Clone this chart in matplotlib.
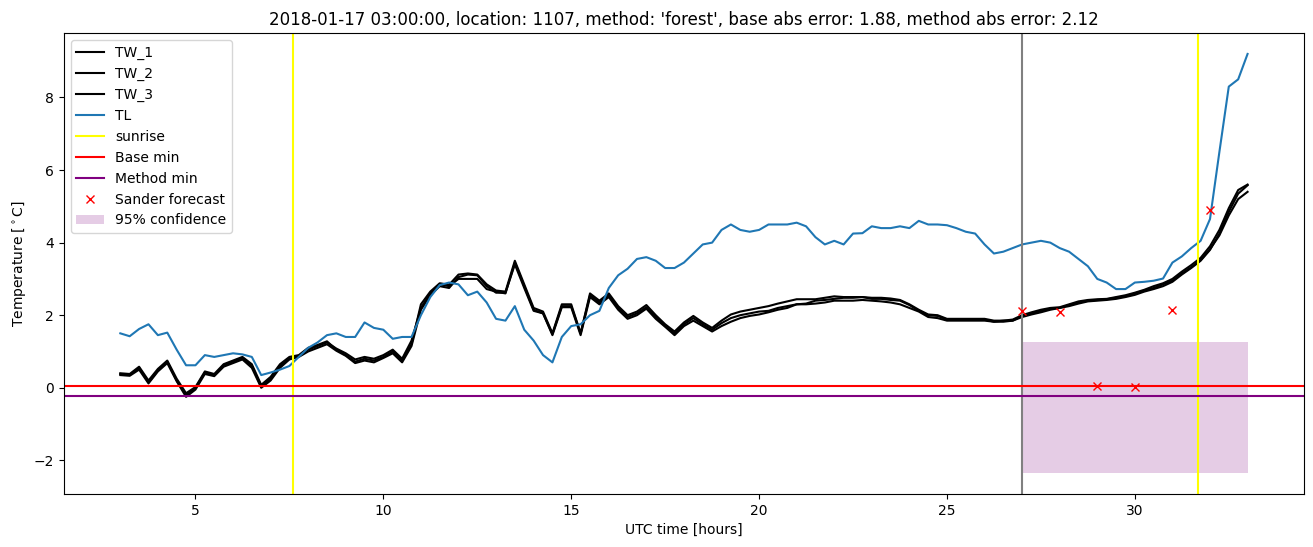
import numpy as np
import matplotlib
matplotlib.use("Agg")
import matplotlib.pyplot as plt

# valores leidos cada 15 min, de 3 h a 33 h UTC
tl = [1.5, 1.42, 1.62, 1.75, 1.45, 1.52, 1.05, 0.62, 0.62, 0.9, 0.85, 0.9, 0.95, 0.92, 0.85, 0.35,
      0.42, 0.5, 0.6, 0.85, 1.1, 1.25, 1.45, 1.5, 1.4, 1.4, 1.8, 1.65, 1.6, 1.35, 1.4, 1.4,
      2.0, 2.5, 2.83, 2.9, 2.85, 2.55, 2.65, 2.35, 1.9, 1.85, 2.25, 1.6, 1.3, 0.9, 0.7, 1.4,
      1.7, 1.75, 2.0, 2.12, 2.75, 3.1, 3.28, 3.55, 3.6, 3.5, 3.3, 3.3, 3.45, 3.7, 3.95, 4.0,
      4.35, 4.5, 4.35, 4.3, 4.35, 4.5, 4.5, 4.5, 4.55, 4.45, 4.15, 3.95, 4.05, 3.95, 4.25, 4.26,
      4.45, 4.4, 4.4, 4.45, 4.4, 4.6, 4.5, 4.5, 4.48, 4.4, 4.3, 4.25, 3.95, 3.7, 3.75, 3.85,
      3.95, 4.0, 4.05, 4.0, 3.85, 3.75, 3.55, 3.35, 3.0, 2.9, 2.72, 2.72, 2.9, 2.92, 2.95, 3.01,
      3.45, 3.62, 3.85, 4.05, 4.65, 6.5, 8.3, 8.5, 9.2]

tw_1 = [0.4, 0.38, 0.58, 0.2, 0.52, 0.75, 0.25, -0.15, 0.02, 0.45, 0.38, 0.65, 0.75, 0.85, 0.65, 0.08,
        0.3, 0.65, 0.85, 0.9, 1.1, 1.18, 1.28, 1.05, 0.9, 0.72, 0.8, 0.75, 0.85, 1.0, 0.75, 1.2,
        2.3, 2.65, 2.88, 2.84, 3.12, 3.15, 3.12, 2.85, 2.68, 2.65, 3.5, 2.85, 2.2, 2.1, 1.5, 2.3,
        2.3, 1.5, 2.6, 2.4, 2.6, 2.25, 2.0, 2.1, 2.28, 2.0, 1.75, 1.55, 1.8, 1.98, 1.8, 1.65,
        1.85, 2.02, 2.1, 2.15, 2.2, 2.25, 2.32, 2.38, 2.44, 2.44, 2.44, 2.48, 2.52, 2.5, 2.5, 2.5,
        2.48, 2.48, 2.46, 2.42, 2.3, 2.15, 2.02, 2.0, 1.9, 1.9, 1.9, 1.9, 1.9, 1.85, 1.85, 1.88,
        2.0, 2.08, 2.15, 2.2, 2.22, 2.3, 2.38, 2.42, 2.44, 2.45, 2.5, 2.55, 2.62, 2.7, 2.8, 2.88,
        3.0, 3.2, 3.38, 3.58, 3.9, 4.35, 4.95, 5.45, 5.6]

tw_2 = [0.38, 0.35, 0.55, 0.15, 0.48, 0.72, 0.2, -0.2, 0.0, 0.42, 0.35, 0.62, 0.72, 0.82, 0.6, 0.04,
        0.25, 0.6, 0.8, 0.88, 1.05, 1.15, 1.25, 1.08, 0.95, 0.78, 0.85, 0.8, 0.9, 1.05, 0.8, 1.3,
        2.2, 2.6, 2.85, 2.8, 3.0, 3.0, 3.0, 2.72, 2.65, 2.6, 3.45, 2.8, 2.15, 2.05, 1.48, 2.25,
        2.25, 1.5, 2.55, 2.35, 2.55, 2.2, 1.95, 2.05, 2.22, 1.95, 1.7, 1.5, 1.75, 1.92, 1.75, 1.6,
        1.78, 1.92, 2.0, 2.05, 2.1, 2.12, 2.2, 2.25, 2.3, 2.3, 2.32, 2.35, 2.4, 2.4, 2.4, 2.42,
        2.4, 2.38, 2.35, 2.3, 2.2, 2.1, 1.95, 1.92, 1.85, 1.85, 1.85, 1.85, 1.85, 1.82, 1.82, 1.85,
        1.95, 2.02, 2.08, 2.15, 2.2, 2.25, 2.32, 2.38, 2.4, 2.42, 2.45, 2.5, 2.56, 2.65, 2.72, 2.8,
        2.92, 3.12, 3.3, 3.5, 3.8, 4.25, 4.85, 5.35, 5.58]

tw_3 = [0.35, 0.33, 0.5, 0.12, 0.45, 0.68, 0.18, -0.25, -0.05, 0.38, 0.32, 0.58, 0.68, 0.78, 0.55, 0.0,
        0.2, 0.55, 0.78, 0.85, 1.0, 1.1, 1.2, 1.02, 0.88, 0.68, 0.75, 0.7, 0.82, 0.95, 0.7, 1.15,
        2.15, 2.55, 2.8, 2.75, 3.05, 3.12, 3.1, 2.8, 2.62, 2.62, 3.4, 2.75, 2.12, 2.05, 1.45, 2.22,
        2.22, 1.45, 2.5, 2.3, 2.5, 2.15, 1.9, 2.0, 2.18, 1.9, 1.68, 1.45, 1.7, 1.85, 1.7, 1.55,
        1.7, 1.82, 1.92, 1.98, 2.02, 2.08, 2.15, 2.2, 2.3, 2.32, 2.4, 2.42, 2.45, 2.48, 2.48, 2.5,
        2.45, 2.45, 2.42, 2.4, 2.28, 2.12, 2.0, 1.98, 1.88, 1.88, 1.88, 1.88, 1.88, 1.82, 1.85, 1.85,
        1.98, 2.05, 2.12, 2.18, 2.2, 2.28, 2.35, 2.4, 2.42, 2.44, 2.48, 2.52, 2.6, 2.68, 2.75, 2.85,
        2.95, 3.15, 3.32, 3.52, 3.82, 4.2, 4.75, 5.2, 5.4]

hours = np.linspace(3, 33, len(tl))

sunrise = [7.6, 31.67]
forecast_start = 27
base_min = 0.035
method_min = -0.22
conf_x = [27, 33]
conf_low = -2.35
conf_high = 1.26

sander_x = [27, 28, 29, 30, 31, 32]
sander_y = [2.12, 2.09, 0.055, 0.02, 2.13, 4.89]

fig, ax = plt.subplots(figsize=(13.13, 5.47), dpi=100)
fig.subplots_adjust(left=0.0487, right=0.9931, top=0.9397, bottom=0.0969)

ax.plot(hours, tw_1, color="black", label="TW_1")
ax.plot(hours, tw_2, color="black", label="TW_2")
ax.plot(hours, tw_3, color="black", label="TW_3")
ax.plot(hours, tl, color="C0", label="TL")
for i, s in enumerate(sunrise):
    ax.axvline(s, color="yellow", label="sunrise" if i == 0 else None)
ax.axvline(forecast_start, color="gray")
ax.axhline(base_min, color="red", label="Base min")
ax.axhline(method_min, color="purple", label="Method min")
ax.plot(sander_x, sander_y, "x", color="red", label="Sander forecast")
ax.fill_between(conf_x, conf_low, conf_high, color="purple", alpha=0.2, linewidth=0,
                label="95% confidence")

ax.set_title("2018-01-17 03:00:00, location: 1107, method: 'forest', "
             "base abs error: 1.88, method abs error: 2.12")
ax.set_xlabel("UTC time [hours]")
ax.set_ylabel("Temperature [$^\\circ$C]")
ax.legend(loc="upper left")

fig.savefig("out.png")
